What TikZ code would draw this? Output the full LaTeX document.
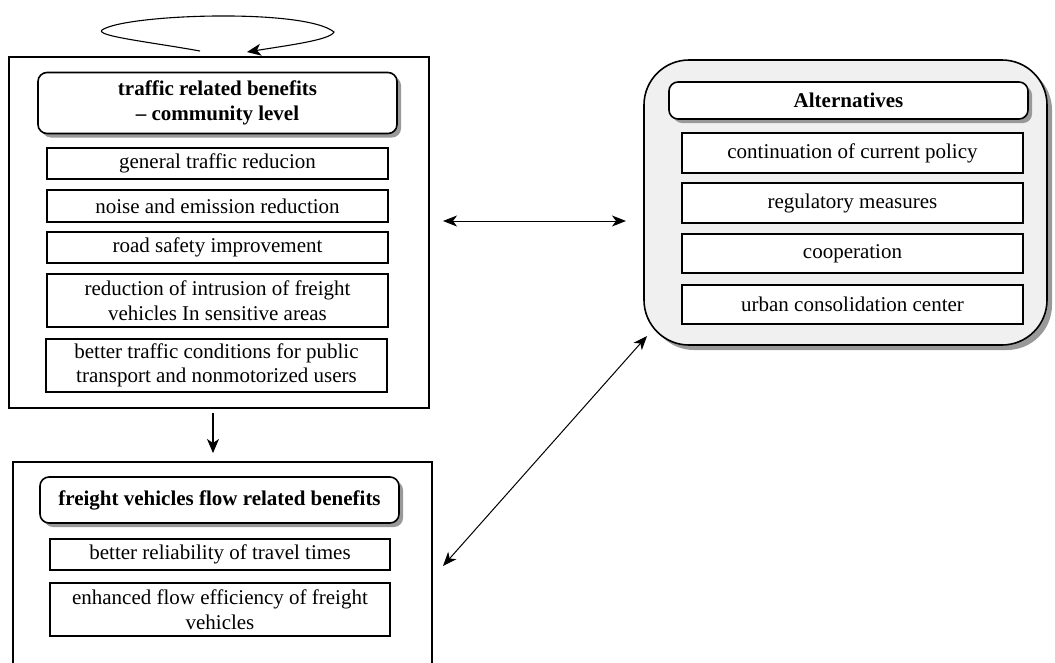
\documentclass[tikz,border=0pt]{standalone}
\usepackage{fontspec}
\setmainfont{Liberation Serif}
\usetikzlibrary{shadows,arrows.meta}
\begin{document}
\begin{tikzpicture}[x=1pt,y=-1pt,
  every node/.style={font=\fontsize{21}{24.5}\selectfont},
  outerbox/.style={draw, line width=1.6pt, inner sep=0},
  hdr/.style={draw, rounded corners=9pt, fill=white, line width=1.6pt,
    drop shadow={shadow xshift=4pt, shadow yshift=-4pt, fill=gray!80, opacity=1},
    font=\fontsize{21}{24.5}\selectfont\bfseries, align=center, inner sep=0},
  itembox/.style={draw, fill=white, line width=1.4pt, align=center, inner sep=0},
  arr/.style={line width=1.1pt, -{Stealth[length=14pt,width=12pt,inset=4pt]}},
  darr/.style={line width=1pt, {Stealth[length=14pt,width=11pt,inset=4pt]}-{Stealth[length=14pt,width=11pt,inset=4pt]}}
]
\useasboundingbox (0,0) rectangle (1055,662);

% box 1
\node[outerbox, minimum width=420pt, minimum height=351pt] (box1) at (219,232.5) {};
\node[hdr, minimum width=359pt, minimum height=61pt] (h1) at (217.5,103) {traffic related benefits\\ -- community level};
\node[itembox, minimum width=341pt, minimum height=31pt] (i1) at (217.5,163.5) {general traffic reducion};
\node[itembox, minimum width=341pt, minimum height=32pt] (i2) at (217.5,206) {noise and emission reduction};
\node[itembox, minimum width=341pt, minimum height=31pt] (i3) at (217.5,247.5) {road safety improvement};
\node[itembox, minimum width=341pt, minimum height=53pt] (i4) at (217.5,300.5) {reduction of intrusion of freight\\ vehicles In sensitive areas};
\node[itembox, minimum width=341pt, minimum height=53pt] (i5) at (216.5,365.5) {better traffic conditions for public\\ transport and nonmotorized users};

% self loop
\coordinate (ls) at (200,51);
\coordinate (le) at (247,52);
\draw[arr] (ls) .. controls (150,42) and (95,36) .. (102,30)
  .. controls (125,14) and (305,8) .. (334,32)
  .. controls (330,40) and (290,45) .. (le);

% box 2
\node[outerbox, minimum width=419pt, minimum height=218pt] (box2) at (222.5,571) {};
\node[hdr, minimum width=359pt, minimum height=46pt] (h2) at (219.5,500) {freight vehicles flow related benefits};
\node[itembox, minimum width=340pt, minimum height=31pt] (j1) at (220,554.5) {better reliability of travel times};
\node[itembox, minimum width=340pt, minimum height=53pt] (j2) at (220,609.5) {enhanced flow efficiency of freight\\ vehicles};

% alternatives
\node[draw, line width=1.6pt, rounded corners=45pt, fill=gray!12,
  drop shadow={shadow xshift=5pt, shadow yshift=-5pt, fill=gray!80, opacity=1},
  minimum width=403pt, minimum height=285pt, inner sep=0] (alt) at (845.5,202.5) {};
\node[hdr, minimum width=359pt, minimum height=37pt] (ah) at (848.5,100.5) {Alternatives};
\node[itembox, minimum width=341pt, minimum height=40pt] (a1) at (852.5,153) {continuation of current policy};
\node[itembox, minimum width=341pt, minimum height=40pt] (a2) at (852.5,203) {regulatory measures};
\node[itembox, minimum width=341pt, minimum height=39pt] (a3) at (852.5,253.5) {cooperation};
\node[itembox, minimum width=341pt, minimum height=39pt] (a4) at (852.5,304.5) {urban consolidation center};

% connectors
\coordinate (d1) at (213,413);
\coordinate (d2) at (213,453);
\draw[arr] (d1) -- (d2);
\coordinate (p1) at (443,221);
\coordinate (p2) at (626,221);
\draw[darr] (p1) -- (p2);
\coordinate (q1) at (443,566);
\coordinate (q2) at (647,336);
\draw[darr] (q1) -- (q2);
\end{tikzpicture}
\end{document}
